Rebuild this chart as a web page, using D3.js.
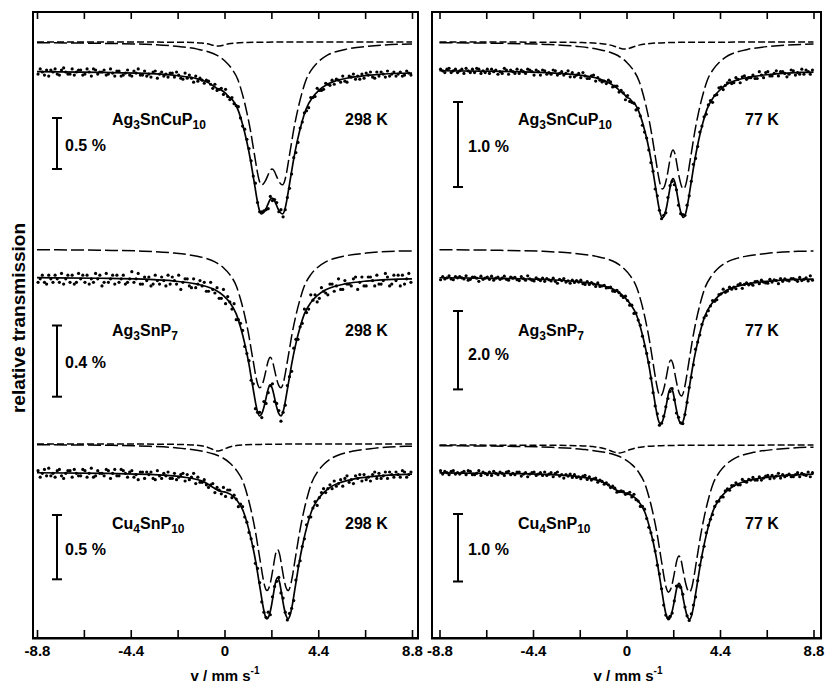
<!DOCTYPE html>
<html>
<head>
<meta charset="utf-8">
<script src="https://cdn.jsdelivr.net/npm/d3@7"></script>
<style>
body { margin: 0; background: #fff; }
svg { display: block; }
text { font-family: "Liberation Sans", Arial, Helvetica, sans-serif; font-weight: bold; fill: #000; }
</style>
</head>
<body>
<svg id="chart" width="827" height="686"></svg>
<script>

// ---- velocity axis ----
var velTicks = [-8.8, -6.6, -4.4, -2.2, 0, 2.2, 4.4, 6.6, 8.8];
var velLabels = ["-8.8", "", "-4.4", "", "0", "", "4.4", "", "8.8"];
var chanStart = -8.75, chanStep = 0.1;   // measured channels
var obsUnit = 0.01;                     // observed depths are in 0.01 % steps

var compounds = [
	[["Ag",0],["3",1],["SnCuP",0],["10",1]],
	[["Ag",0],["3",1],["SnP",0],["7",1]],
	[["Cu",0],["4",1],["SnP",0],["10",1]]
];
var temps = ["298 K", "77 K"];
var barPct = [[0.5, 0.4, 0.5], [1.0, 2.0, 1.0]];

// ---- observed spectra (depth below baseline, 0.01 %) ----
var obsL1 = [3,-2,1,4,-1,5,-1,1,-2,3, 4,-1,-3,1,3,3,-2,4,1,-1, -1,4,3,-2,1,5,-2,-1,3,1, 1,-1,4,3,-2,2,5,0,0,5,
	4,2,-1,4,5,0,2,-2,4,4, 0,5,3,6,1,0,7,3,1,5, 3,6,2,2,6,1,4,7,8,2, 7,4,7,11,5,10,7,9,12,9,
	10,13,17,13,19,18,17,23,18,25, 28,26,32,34,35,46,54,57,67,76, 88,103,110,129,138,138,137,136,135,123,
	127,126,129,138,136,143,136,124,115,101, 85,80,70,56,50,41,39,36,26,26, 25,17,19,19,18,12,13,14,9,13,
	8,9,11,5,10,11,5,6,3,8, 5,8,3,7,2,4,1,6,7,1, 5,1,3,6,0,5,3,1,5,3, 1,5,4,0,2,4];
var obsL2 = [3,1,-1,3,4,-1,1,3,-1,1, 3,-2,4,1,-1,3,-1,4,3,-2, 1,-1,3,-1,4,1,3,-2,1,-1, 5,3,-2,3,1,-1,4,-1,3,1,
	-1,4,3,1,-3,3,1,-2,4,4, 0,2,0,5,4,-1,2,4,0,2, 5,-1,4,0,2,4,-1,7,3,1, 1,5,6,1,6,4,2,5,3,8,
	8,3,7,9,6,12,12,7,15,11, 14,18,15,24,24,26,30,39,43,47, 58,60,74,76,76,79,70,71,65,61,
	60,70,71,75,81,76,72,61,56,53, 40,35,35,28,26,18,20,18,10,13, 10,14,12,6,8,9,10,4,4,8,
	5,1,7,7,2,4,4,5,1,0, 7,3,0,5,5,0,0,2,5,-1, 4,4,2,-2,0,5,4,-1,2,-1, 5,-1,4,1,-2,3];
var obsL3 = [-1,4,1,-2,3,-3,3,1,4,-1, -2,3,5,1,-1,-1,4,-2,1,3, 3,-2,-1,4,1,-3,4,3,-1,1, 1,3,-2,-1,5,1,-2,3,3,-2,
	-1,1,4,0,-1,4,2,6,0,0, 5,0,2,0,5,6,-1,3,5,1, 3,0,5,5,1,6,4,2,1,7, 2,6,4,1,9,4,8,8,6,10,
	12,10,9,16,12,14,17,12,19,14, 14,20,18,21,27,25,27,35,39,47, 52,58,71,75,86,101,109,113,109,111,
	97,89,85,82,94,98,109,115,110,106, 100,84,73,69,58,52,41,35,35,28, 23,26,20,16,13,16,13,10,13,7,
	11,9,6,11,5,3,8,6,9,3, 5,2,7,2,6,4,7,2,0,5, 1,5,3,0,5,0,2,4,0,2, 4,-1,0,4,2,0];
var obsR1 = [-1,1,3,-1,-2,3,1,-1,3,1, -1,4,-2,1,3,-1,3,-2,-1,4, 1,3,-1,4,-1,2,0,5,2,4, -2,0,5,0,2,4,-1,4,0,2,
	4,-1,0,2,6,0,2,6,0,1, 5,3,5,0,1,6,4,2,6,4, 1,8,3,8,6,4,9,3,7,10, 10,7,6,13,9,12,14,13,16,12,
	14,20,19,19,26,24,27,35,30,37, 38,39,47,45,54,65,73,80,94,109, 119,140,148,165,175,171,168,150,136,131,
	135,141,159,169,170,171,159,148,131,111, 104,90,73,66,55,52,41,36,38,30, 29,21,20,23,18,15,12,16,15,9,
	11,15,8,7,11,9,9,6,10,10, 2,6,9,3,2,7,7,4,1,7, 2,2,4,8,5,0,1,6,3,5, -1,5,0,2,5,0];
var obsR2 = [7,-1,5,2,-3,5,7,-1,2,-1, 2,5,-3,8,6,0,0,3,11,-2, 6,3,0,6,-2,8,3,0,6,3, -2,6,8,0,3,1,7,9,-1,4,
	8,-3,5,8,10,2,6,9,3,11, 4,7,10,3,11,16,6,9,4,13, 10,16,8,14,9,13,8,17,19,12, 19,14,18,24,15,24,23,21,28,27,
	26,36,37,34,40,47,52,49,60,72, 72,93,92,110,123,151,176,195,218,258, 295,329,349,378,373,355,331,310,292,285,
	313,347,358,372,374,351,320,282,256,224, 184,166,148,121,104,98,86,74,60,62, 58,45,43,31,39,36,26,31,26,30,
	20,17,29,19,15,20,17,21,12,11, 17,8,13,15,16,6,13,7,9,17, 4,11,5,8,10,4,4,7,11,1, 9,6,2,10,-3,8];
var obsR3 = [-2,3,-1,1,4,-1,-2,3,1,3, 1,-1,4,-2,-1,4,4,2,-2,5, 0,2,4,0,5,-1,2,4,0,2, 5,0,-1,4,2,4,0,0,6,3,
	1,7,3,1,0,5,3,1,5,0, 5,3,1,7,2,0,6,4,9,4, 6,3,8,4,8,7,10,6,5,11, 7,12,10,9,15,12,14,18,16,19,
	23,21,24,30,29,28,29,33,32,30, 37,33,41,43,51,51,55,69,82,90, 101,117,138,151,173,197,212,216,214,209,
	191,169,169,171,181,200,213,220,210,197, 185,161,138,126,110,90,79,70,63,51, 44,43,37,37,28,25,27,20,20,16,
	19,19,11,14,15,11,12,8,12,12, 7,12,9,6,5,10,5,9,6,2, 9,4,7,5,3,7,7,4,1,7, 2,4,5,0,7,1];

// ---- fitted sub-spectra [velocity, depth %] ----
var dblL1 = [[-8.8,.007],[-5.77,.013],[-3.77,.022],[-2.27,.042],[-1.27,.070],[-0.77,.095],[-0.37,.129],[0.03,.189],[0.33,.259],[0.63,.371],[0.83,.504],[1.03,.672],[1.23,.882],[1.33,1.008],[1.43,1.134],[1.53,1.260],[1.63,1.358],[1.73,1.400],[1.83,1.389],[1.93,1.357],[2.03,1.310],[2.13,1.264],[2.23,1.246],[2.33,1.264],[2.43,1.310],[2.53,1.357],[2.63,1.389],[2.73,1.400],[2.83,1.358],[2.93,1.260],[3.03,1.134],[3.13,1.008],[3.23,.882],[3.43,.672],[3.63,.504],[3.83,.371],[4.13,.259],[4.43,.189],[4.83,.129],[5.23,.095],[5.73,.070],[6.73,.042],[8.23,.022],[8.8,.020]];
var sglL1 = [[-8.8,0],[-3.3,.001],[-2.3,.002],[-1.5,.005],[-1.1,.010],[-0.8,.018],[-0.55,.031],[-0.3,.040],[-0.05,.031],[0.2,.018],[0.5,.010],[0.9,.005],[1.7,.002],[2.7,.001],[8.8,0]];
var fitL1 = [[-8.8,.007],[-5.77,.014],[-3.77,.023],[-2.27,.044],[-1.27,.077],[-0.77,.114],[-0.55,.143],[-0.37,.168],[-0.3,.175],[-0.05,.201],[0.03,.215],[0.2,.253],[0.33,.273],[0.63,.379],[0.83,.510],[1.03,.676],[1.23,.885],[1.33,1.010],[1.43,1.136],[1.53,1.262],[1.63,1.360],[1.73,1.402],[1.83,1.390],[1.93,1.358],[2.03,1.311],[2.13,1.265],[2.23,1.247],[2.33,1.265],[2.43,1.311],[2.53,1.358],[2.63,1.390],[2.73,1.401],[2.83,1.359],[2.93,1.261],[3.03,1.135],[3.13,1.009],[3.23,.883],[3.43,.673],[3.63,.505],[3.83,.372],[4.13,.260],[4.43,.190],[4.83,.130],[5.23,.096],[5.73,.071],[6.73,.043],[8.23,.022],[8.8,.020]];

var dblL2 = [[-8.8,.004],[-5.85,.007],[-3.85,.012],[-2.35,.023],[-1.35,.039],[-0.85,.053],[-0.45,.072],[-0.05,.105],[0.25,.144],[0.55,.207],[0.75,.281],[0.95,.374],[1.15,.491],[1.25,.562],[1.35,.632],[1.45,.702],[1.55,.757],[1.65,.780],[1.75,.768],[1.85,.732],[1.95,.680],[2.05,.629],[2.15,.608],[2.25,.629],[2.35,.680],[2.45,.732],[2.55,.768],[2.65,.780],[2.75,.757],[2.85,.702],[2.95,.632],[3.05,.562],[3.15,.491],[3.35,.374],[3.55,.281],[3.75,.207],[4.05,.144],[4.35,.105],[4.75,.072],[5.15,.053],[5.65,.039],[6.65,.023],[8.15,.012],[8.8,.011]];

var dblL3 = [[-8.8,.006],[-5.51,.010],[-3.51,.018],[-2.01,.034],[-1.01,.057],[-0.51,.078],[-0.11,.105],[0.29,.154],[0.59,.211],[0.89,.302],[1.09,.410],[1.29,.547],[1.49,.718],[1.59,.821],[1.69,.923],[1.79,1.026],[1.89,1.106],[1.99,1.140],[2.09,1.117],[2.19,1.051],[2.29,.955],[2.39,.860],[2.49,.821],[2.59,.860],[2.69,.955],[2.79,1.051],[2.89,1.117],[2.99,1.140],[3.09,1.106],[3.19,1.026],[3.29,.923],[3.39,.821],[3.49,.718],[3.69,.547],[3.89,.410],[4.09,.302],[4.39,.211],[4.69,.154],[5.09,.105],[5.49,.078],[5.99,.057],[6.99,.034],[8.49,.018],[8.8,.017]];
var sglL3 = [[-8.8,0],[-3.3,.001],[-2.3,.003],[-1.5,.007],[-1.1,.013],[-0.8,.025],[-0.55,.042],[-0.3,.055],[-0.05,.042],[0.2,.025],[0.5,.013],[0.9,.007],[1.7,.003],[2.7,.001],[8.8,0]];
var fitL3 = [[-8.8,.006],[-5.51,.011],[-3.51,.019],[-2.01,.038],[-1.01,.073],[-0.51,.123],[-0.3,.143],[-0.11,.152],[0.09,.159],[0.29,.174],[0.59,.222],[0.89,.309],[1.09,.415],[1.29,.551],[1.49,.721],[1.59,.823],[1.69,.925],[1.79,1.028],[1.89,1.108],[1.99,1.142],[2.09,1.119],[2.19,1.052],[2.29,.956],[2.39,.861],[2.49,.822],[2.59,.861],[2.69,.956],[2.79,1.052],[2.89,1.118],[2.99,1.141],[3.09,1.107],[3.19,1.027],[3.29,.924],[3.39,.822],[3.49,.719],[3.69,.548],[3.89,.411],[4.09,.303],[4.39,.212],[4.69,.155],[5.09,.106],[5.49,.079],[5.99,.057],[6.99,.034],[8.49,.018],[8.8,.017]];

var dblR1 = [[-8.8,.009],[-5.81,.016],[-3.81,.028],[-2.31,.052],[-1.31,.087],[-0.81,.118],[-0.41,.159],[-0.01,.234],[0.29,.320],[0.59,.458],[0.79,.623],[0.99,.830],[1.19,1.090],[1.29,1.246],[1.39,1.401],[1.49,1.557],[1.59,1.678],[1.69,1.730],[1.79,1.697],[1.89,1.602],[1.99,1.464],[2.09,1.327],[2.19,1.272],[2.29,1.327],[2.39,1.464],[2.49,1.602],[2.59,1.697],[2.69,1.730],[2.79,1.678],[2.89,1.557],[2.99,1.401],[3.09,1.246],[3.19,1.090],[3.39,.830],[3.59,.623],[3.79,.458],[4.09,.320],[4.39,.234],[4.79,.159],[5.19,.118],[5.69,.087],[6.69,.052],[8.19,.028],[8.8,.024]];
var sglR1 = [[-8.8,0],[-3.08,.003],[-2.08,.007],[-1.28,.017],[-0.88,.030],[-0.58,.049],[-0.33,.071],[-0.08,.083],[0.17,.071],[0.42,.049],[0.72,.030],[1.12,.017],[1.92,.007],[2.92,.003],[8.8,0]];
var fitR1 = [[-8.8,.009],[-5.81,.017],[-3.81,.030],[-2.31,.058],[-1.31,.103],[-0.81,.152],[-0.58,.189],[-0.41,.223],[-0.33,.241],[-0.08,.293],[-0.01,.316],[0.17,.341],[0.29,.380],[0.42,.409],[0.59,.495],[0.79,.650],[0.99,.850],[1.19,1.105],[1.29,1.259],[1.39,1.413],[1.49,1.568],[1.59,1.688],[1.69,1.739],[1.79,1.705],[1.89,1.609],[1.99,1.470],[2.09,1.333],[2.19,1.277],[2.29,1.332],[2.39,1.469],[2.49,1.607],[2.59,1.701],[2.69,1.734],[2.79,1.681],[2.89,1.560],[2.99,1.404],[3.09,1.249],[3.19,1.093],[3.39,.832],[3.59,.625],[3.79,.460],[4.09,.322],[4.39,.236],[4.79,.160],[5.19,.119],[5.69,.088],[6.69,.053],[8.19,.028],[8.8,.024]];

var dblR2 = [[-8.8,.019],[-5.91,.034],[-3.91,.060],[-2.41,.113],[-1.41,.188],[-0.91,.255],[-0.51,.345],[-0.11,.506],[0.19,.694],[0.49,.994],[0.69,1.350],[0.89,1.800],[1.09,2.363],[1.19,2.700],[1.29,3.038],[1.39,3.375],[1.49,3.638],[1.59,3.750],[1.69,3.686],[1.79,3.491],[1.89,3.218],[1.99,2.940],[2.09,2.831],[2.19,2.940],[2.29,3.218],[2.39,3.491],[2.49,3.686],[2.59,3.750],[2.69,3.638],[2.79,3.375],[2.89,3.038],[2.99,2.700],[3.09,2.363],[3.29,1.800],[3.49,1.350],[3.69,.994],[3.99,.694],[4.29,.506],[4.69,.345],[5.09,.255],[5.59,.188],[6.59,.113],[8.09,.060],[8.8,.053]];

var dblR3 = [[-8.8,.011],[-5.53,.020],[-3.53,.035],[-2.03,.065],[-1.03,.109],[-0.53,.148],[-0.13,.201],[0.27,.294],[0.57,.403],[0.87,.578],[1.07,.785],[1.27,1.046],[1.47,1.373],[1.57,1.570],[1.67,1.766],[1.77,1.962],[1.87,2.115],[1.97,2.180],[2.07,2.143],[2.17,2.030],[2.27,1.870],[2.37,1.709],[2.47,1.646],[2.57,1.709],[2.67,1.870],[2.77,2.030],[2.87,2.143],[2.97,2.180],[3.07,2.115],[3.17,1.962],[3.27,1.766],[3.37,1.570],[3.47,1.373],[3.67,1.046],[3.87,.785],[4.07,.578],[4.37,.403],[4.67,.294],[5.07,.201],[5.47,.148],[5.97,.109],[6.97,.065],[8.47,.035],[8.8,.032]];
var sglR3 = [[-8.8,.001],[-3.36,.005],[-2.36,.010],[-1.56,.024],[-1.16,.043],[-0.86,.071],[-0.61,.102],[-0.36,.120],[-0.11,.102],[0.14,.071],[0.44,.043],[0.84,.024],[1.64,.010],[2.64,.005],[8.8,.001]];
var fitR3 = [[-8.8,.012],[-5.53,.022],[-3.53,.039],[-2.03,.079],[-1.03,.162],[-0.78,.208],[-0.53,.259],[-0.36,.288],[-0.13,.306],[0.07,.324],[0.27,.351],[0.57,.438],[0.87,.601],[1.07,.803],[1.27,1.060],[1.47,1.385],[1.57,1.581],[1.67,1.776],[1.77,1.971],[1.87,2.123],[1.97,2.187],[2.07,2.150],[2.17,2.036],[2.27,1.876],[2.37,1.715],[2.47,1.651],[2.57,1.714],[2.67,1.875],[2.77,2.034],[2.87,2.147],[2.97,2.184],[3.07,2.119],[3.17,1.965],[3.27,1.769],[3.37,1.573],[3.47,1.376],[3.67,1.049],[3.87,.787],[4.07,.580],[4.37,.405],[4.67,.296],[5.07,.203],[5.47,.149],[5.97,.110],[6.97,.066],[8.47,.036],[8.8,.033]];

// spectra per panel (left 298 K, right 77 K)
var spectra = [
	[{obs:obsL1, fit:fitL1, dbl:dblL1, sgl:sglL1},
	 {obs:obsL2, fit:dblL2, dbl:dblL2, sgl:null},
	 {obs:obsL3, fit:fitL3, dbl:dblL3, sgl:sglL3}],
	[{obs:obsR1, fit:fitR1, dbl:dblR1, sgl:sglR1},
	 {obs:obsR2, fit:dblR2, dbl:dblR2, sgl:null},
	 {obs:obsR3, fit:fitR3, dbl:dblR3, sgl:sglR3}]
];

// ---- layout (pixels) ----
var panelBox = [{x0:33, x1:418, r0:37, r1:412, fx:112, tx:345, bx:57, px:65, title:225},
                {x0:432, x1:821, r0:439.5, r1:813.5, fx:518, tx:745, bx:458, px:468, title:628}];
var frameTop = 12, frameBottom = 638;
// base: data zero line, ppp: pixels per %, comp: zero line of sub-spectra,
// bar: top of scale bar, ly: label baseline, py: % label baseline
var rowLay = [
	[{base:71, ppp:102, comp:42, bar:118, ly:125, py:150.5},
	 {base:277, ppp:178, comp:249, bar:325.5, ly:336, py:367.5},
	 {base:472, ppp:128.6, comp:444, bar:515, ly:529, py:555}],
	[{base:70, ppp:85, comp:42, bar:102, ly:125, py:152},
	 {base:277, ppp:39.2, comp:249, bar:311, ly:336, py:359.5},
	 {base:472, ppp:67.5, comp:445, bar:514, ly:529, py:555}]
];

var svg = d3.select("#chart");

function drawFormula(g, x, y, parts){
	var t = g.append("text").attr("x", x).attr("y", y).attr("font-size", 16);
	var low = false;
	parts.forEach(function(p){
		var s = t.append("tspan").text(p[0]);
		if (p[1]) {
			s.attr("font-size", 12);
			if (!low) { s.attr("dy", 4); low = true; }
		} else if (low) {
			s.attr("dy", -4); low = false;
		}
	});
}

function drawSpectrum(g, xs, lay, sp){
	var ys = d3.scaleLinear().domain([0, 1]).range([lay.base, lay.base + lay.ppp]);
	var yc = d3.scaleLinear().domain([0, 1]).range([lay.comp, lay.comp + lay.ppp]);

	// measured points
	g.append("g").selectAll("circle")
		.data(sp.obs).enter().append("circle")
		.attr("cx", function(d, i){ return xs(chanStart + i*chanStep); })
		.attr("cy", function(d){ return ys(d*obsUnit); })
		.attr("r", 1.6)
		.attr("fill", "#000");

	var fitLine = d3.line()
		.x(function(d){ return xs(d[0]); })
		.y(function(d){ return ys(d[1]); })
		.curve(d3.curveMonotoneX);
	var compLine = d3.line()
		.x(function(d){ return xs(d[0]); })
		.y(function(d){ return yc(d[1]); })
		.curve(d3.curveMonotoneX);

	g.append("path").attr("d", fitLine(sp.fit))
		.attr("fill", "none").attr("stroke", "#000").attr("stroke-width", 1.7);

	if (sp.sgl) {
		g.append("path").attr("d", compLine(sp.sgl))
			.attr("fill", "none").attr("stroke", "#000").attr("stroke-width", 1.5)
			.attr("stroke-dasharray", "7,3");
	}
	g.append("path").attr("d", compLine(sp.dbl))
		.attr("fill", "none").attr("stroke", "#000").attr("stroke-width", 1.5)
		.attr("stroke-dasharray", "13,4");
	return ys;
}

panelBox.forEach(function(pb, pi){
	var g = svg.append("g");
	var xs = d3.scaleLinear().domain([-8.8, 8.8]).range([pb.r0, pb.r1]);

	for (var ri = 0; ri < 3; ri++) {
		var lay = rowLay[pi][ri];
		var ys = drawSpectrum(g, xs, lay, spectra[pi][ri]);

		drawFormula(g, pb.fx, lay.ly, compounds[ri]);
		g.append("text").attr("x", pb.tx).attr("y", lay.ly)
			.attr("font-size", 16).text(temps[pi]);

		// scale bar
		var pct = barPct[pi][ri];
		var len = ys(pct) - ys(0);
		var y0 = lay.bar, y1 = lay.bar + len;
		var bar = g.append("g").attr("stroke", "#000").attr("stroke-width", 2);
		bar.append("line").attr("x1", pb.bx).attr("x2", pb.bx).attr("y1", y0).attr("y2", y1);
		bar.append("line").attr("x1", pb.bx-5).attr("x2", pb.bx+5).attr("y1", y0).attr("y2", y0);
		bar.append("line").attr("x1", pb.bx-5).attr("x2", pb.bx+5).attr("y1", y1).attr("y2", y1);
		g.append("text").attr("x", pb.px).attr("y", lay.py)
			.attr("font-size", 16).text(pct.toFixed(1) + " %");
	}

	// frame
	g.append("rect").attr("x", pb.x0).attr("y", frameTop)
		.attr("width", pb.x1 - pb.x0).attr("height", frameBottom - frameTop)
		.attr("fill", "none").attr("stroke", "#000").attr("stroke-width", 2);

	// ticks
	var axB = d3.axisBottom(xs).tickValues(velTicks).tickSizeInner(-8).tickSizeOuter(0).tickPadding(7)
		.tickFormat(function(d, i){ return velLabels[i]; });
	var gb = g.append("g").attr("transform", "translate(0," + frameBottom + ")").call(axB);
	var axT = d3.axisTop(xs).tickValues(velTicks).tickSizeInner(-7).tickSizeOuter(0).tickFormat("");
	var gt = g.append("g").attr("transform", "translate(0," + frameTop + ")").call(axT);
	[gb, gt].forEach(function(a){
		a.select(".domain").remove();
		a.selectAll(".tick line").attr("stroke", "#000").attr("stroke-width", 1.6);
	});
	gb.selectAll(".tick text").attr("font-size", 15).attr("font-family", null).attr("fill", "#000");

	// x title
	var tt = g.append("text").attr("x", pb.title).attr("y", 681)
		.attr("text-anchor", "middle").attr("font-size", 15);
	tt.append("tspan").text("v / mm s");
	tt.append("tspan").attr("font-size", 10).attr("dy", -7).text("-1");

	// bottom edge a bit heavier
	g.append("line").attr("x1", pb.x0 - 1).attr("x2", pb.x1 + 1)
		.attr("y1", frameBottom + 0.8).attr("y2", frameBottom + 0.8)
		.attr("stroke", "#000").attr("stroke-width", 1.5);
});

svg.append("text").attr("transform", "translate(25,318) rotate(-90)")
	.attr("text-anchor", "middle").attr("font-size", 19).text("relative transmission");

</script>
</body>
</html>
